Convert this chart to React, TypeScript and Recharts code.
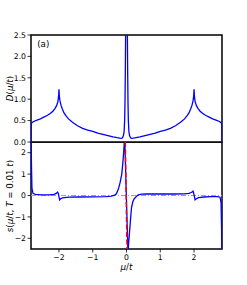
import React from "react";
import { LineChart, Line, XAxis, YAxis, ReferenceArea, ReferenceLine, ReferenceDot } from "recharts";

const FONT = "DejaVu Sans";

// Top panel: density of states D(mu/t)
const muD = [
  -2.828, -2.82, -2.75, -2.65, -2.55, -2.45, -2.35, -2.25, -2.18, -2.12, -2.07, -2.03, -2.01, -2.0, -1.99, -1.97,
  -1.94, -1.9, -1.85, -1.8, -1.72, -1.6, -1.45, -1.3, -1.15, -1.0, -0.85, -0.7, -0.55, -0.4, -0.28, -0.2, -0.15,
  -0.12, -0.09, -0.07, -0.055, -0.045, -0.035, -0.025, -0.01, 0,
  0.01, 0.025, 0.035, 0.045, 0.055, 0.07, 0.09, 0.12, 0.15, 0.2, 0.28, 0.4, 0.55, 0.7, 0.85, 1.0, 1.15, 1.3, 1.45,
  1.6, 1.72, 1.8, 1.85, 1.9, 1.94, 1.97, 1.99, 2.0, 2.01, 2.03, 2.07, 2.12, 2.18, 2.25, 2.35, 2.45, 2.55, 2.65, 2.75,
  2.82, 2.828,
];
const dVals = [
  0, 0.44, 0.48, 0.51, 0.54, 0.58, 0.62, 0.67, 0.72, 0.78, 0.85, 0.95, 1.08, 1.23, 1.08, 0.96,
  0.86, 0.77, 0.68, 0.62, 0.54, 0.46, 0.38, 0.32, 0.28, 0.25, 0.21, 0.18, 0.15, 0.12, 0.1, 0.09, 0.085,
  0.1, 0.15, 0.25, 0.5, 0.9, 1.6, 2.6, 5, 6,
  5, 2.6, 1.6, 0.9, 0.5, 0.25, 0.15, 0.1, 0.085, 0.09, 0.1, 0.12, 0.15, 0.18, 0.21, 0.25, 0.28, 0.32, 0.38,
  0.46, 0.54, 0.62, 0.68, 0.77, 0.86, 0.96, 1.08, 1.23, 1.08, 0.95, 0.85, 0.78, 0.72, 0.67, 0.62, 0.58, 0.54, 0.51, 0.48,
  0.44, 0,
];

// Bottom panel: s(mu/t, T = 0.01 t)
const muS = [
  -2.828, -2.815, -2.8, -2.77, -2.7, -2.5, -2.3, -2.15, -2.08, -2.04, -2.02, -2.0, -1.98, -1.95, -1.9, -1.7, -1.4,
  -1.0, -0.6, -0.45, -0.35, -0.3, -0.24, -0.19, -0.14, -0.11, -0.085, -0.065, -0.055,
  0.045, 0.06, 0.08, 0.1, 0.13, 0.15, 0.19, 0.23, 0.3, 0.35, 0.45, 0.6, 1.0, 1.4, 1.7, 1.85, 1.93, 1.97, 2.0,
  2.03, 2.07, 2.13, 2.3, 2.5, 2.7, 2.77, 2.8, 2.815, 2.828,
];
const sVals = [
  3.5, 1.5, 0.35, 0.1, 0.05, 0.03, 0.03, 0.05, 0.1, 0.16, 0.1, -0.05, -0.2, -0.15, -0.11, -0.08, -0.07,
  -0.06, -0.05, -0.03, 0.02, 0.08, 0.3, 0.6, 1.0, 1.5, 2.0, 2.5, 2.8,
  -2.8, -2.3, -1.9, -1.5, -0.9, -0.55, -0.28, -0.15, -0.03, 0.03, 0.06, 0.07, 0.07, 0.07, 0.08, 0.1, 0.15, 0.2, 0.05,
  -0.2, -0.15, -0.1, -0.07, -0.05, -0.05, -0.08, -0.35, -1.5, -3.5,
];

// Red dashed guide line near mu = 0
const muRed = [-0.035, 0.015];
const sRed = [2.5, -2.5];

const xDomain = [-2.828, 2.828];
const xTicks = [-2, -1, 0, 1, 2];
const topTicks = [0, 0.5, 1, 1.5, 2, 2.5];
const bottomTicks = [-2, -1, 0, 1, 2];

const topData = muD.map((x, i) => ({ x, y: dVals[i] }));
const bottomData = muS.map((x, i) => ({ x, y: sVals[i] }));
const redData = muRed.map((x, i) => ({ x, y: sRed[i] }));

const fmtMinus = (v: number) => (v < 0 ? "\u2212" + Math.abs(v) : String(v));

const TopYLabel = () => (
  <text
    x={10}
    y={88.5}
    transform="rotate(-90, 10, 88.5)"
    textAnchor="middle"
    dominantBaseline="central"
    fontSize={8.7}
    fontFamily={FONT}
    fill="#000"
  >
    <tspan fontStyle="italic">D</tspan>
    <tspan>(</tspan>
    <tspan fontStyle="italic">μ</tspan>
    <tspan>/</tspan>
    <tspan fontStyle="italic">t</tspan>
    <tspan>)</tspan>
  </text>
);

const BottomYLabel = () => (
  <text
    x={10}
    y={54}
    transform="rotate(-90, 10, 54)"
    textAnchor="middle"
    dominantBaseline="central"
    fontSize={8.7}
    fontFamily={FONT}
    fill="#000"
  >
    <tspan fontStyle="italic">s</tspan>
    <tspan>(</tspan>
    <tspan fontStyle="italic">μ</tspan>
    <tspan>/</tspan>
    <tspan fontStyle="italic">t</tspan>
    <tspan>, </tspan>
    <tspan fontStyle="italic">T</tspan>
    <tspan> = 0.01 </tspan>
    <tspan fontStyle="italic">t</tspan>
    <tspan>)</tspan>
  </text>
);

const XLabel = () => (
  <text x={126.5} y={127.5} textAnchor="middle" fontSize={8.7} fontFamily={FONT} fill="#000">
    <tspan fontStyle="italic">μ</tspan>
    <tspan>/</tspan>
    <tspan fontStyle="italic">t</tspan>
  </text>
);

const tickStyle = { fontSize: 7.7, fill: "#000", fontFamily: FONT };

export default function App() {
  return (
    <div style={{ position: "absolute", left: 0, top: 0, width: 247, height: 285, background: "#fff" }}>
      <div style={{ position: "absolute", left: 0, top: 0 }}>
        <LineChart width={247} height={150} margin={{ top: 35, right: 25, bottom: 8, left: 0 }}>
          <XAxis type="number" dataKey="x" domain={xDomain} allowDataOverflow hide />
          <YAxis
            type="number"
            domain={[0, 2.5]}
            ticks={topTicks}
            interval={0}
            allowDataOverflow
            width={31}
            axisLine={false}
            tickLine={{ stroke: "#000", strokeWidth: 0.8 }}
            tickSize={3.5}
            tickMargin={1.5}
            tick={tickStyle}
            tickFormatter={(v: number) => v.toFixed(1)}
            label={<TopYLabel />}
          />
          <ReferenceArea
            x1={xDomain[0]}
            x2={xDomain[1]}
            y1={0}
            y2={2.5}
            stroke="#000"
            strokeWidth={1.5}
            fill="none"
            fillOpacity={0}
            ifOverflow="visible"
          />
          <ReferenceDot
            x={-2.465}
            y={2.29}
            r={0}
            fill="none"
            stroke="none"
            ifOverflow="visible"
            label={{ value: "(a)", position: "center", fontSize: 8.7, fontFamily: FONT, fill: "#000" }}
          />
          <Line
            data={topData}
            dataKey="y"
            type="linear"
            stroke="#0000ff"
            strokeWidth={1.3}
            dot={false}
            isAnimationActive={false}
          />
        </LineChart>
      </div>
      <div style={{ position: "absolute", left: 0, top: 142 }}>
        <LineChart width={247} height={143} margin={{ top: 0, right: 25, bottom: 0, left: 0 }}>
          <XAxis
            type="number"
            dataKey="x"
            domain={xDomain}
            allowDataOverflow
            ticks={xTicks}
            interval={0}
            height={36}
            axisLine={false}
            tickLine={{ stroke: "#000", strokeWidth: 0.8 }}
            tickSize={3.5}
            tickMargin={2}
            tick={tickStyle}
            tickFormatter={fmtMinus}
            label={<XLabel />}
          />
          <YAxis
            type="number"
            domain={[-2.5, 2.5]}
            ticks={bottomTicks}
            interval={0}
            allowDataOverflow
            width={31}
            axisLine={false}
            tickLine={{ stroke: "#000", strokeWidth: 0.8 }}
            tickSize={3.5}
            tickMargin={1.5}
            tick={tickStyle}
            tickFormatter={fmtMinus}
            label={<BottomYLabel />}
          />
          <ReferenceLine y={0} stroke="#a0a0a0" strokeWidth={1} strokeDasharray="5 2 1 2" />
          <ReferenceArea
            x1={xDomain[0]}
            x2={xDomain[1]}
            y1={-2.5}
            y2={2.5}
            stroke="#000"
            strokeWidth={1.5}
            fill="none"
            fillOpacity={0}
            ifOverflow="visible"
          />
          <Line
            data={bottomData}
            dataKey="y"
            type="linear"
            stroke="#0000ff"
            strokeWidth={1.3}
            dot={false}
            isAnimationActive={false}
          />
          <Line
            data={redData}
            dataKey="y"
            type="linear"
            stroke="#ff0000"
            strokeWidth={1.5}
            strokeDasharray="5 2.5"
            dot={false}
            isAnimationActive={false}
          />
        </LineChart>
      </div>
    </div>
  );
}
